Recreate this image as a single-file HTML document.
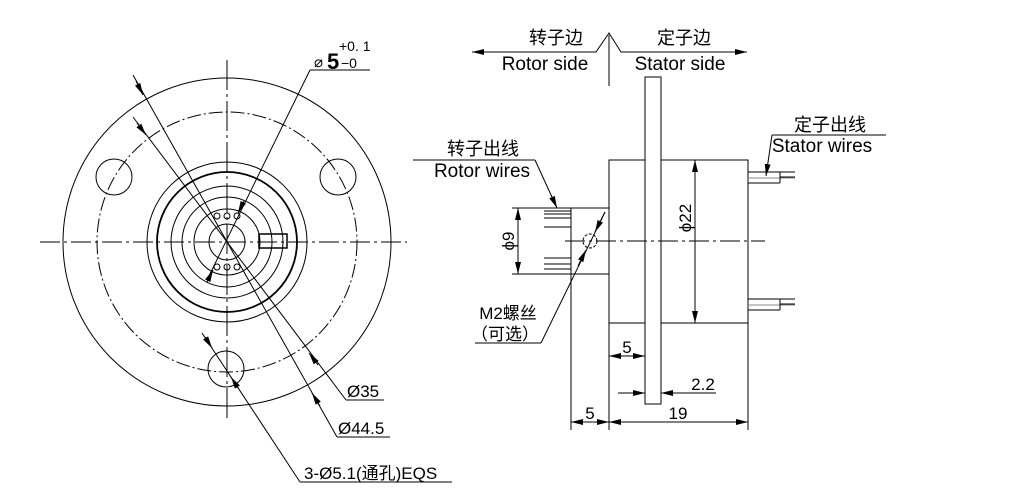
<!DOCTYPE html>
<html><head><meta charset="utf-8"><style>
html,body{margin:0;padding:0;background:#fff;}
svg{display:block;}
text{font-family:"Liberation Sans","Noto Sans CJK SC",sans-serif;fill:#000;}
</style></head><body>
<svg width="1012" height="497" viewBox="0 0 1012 497" xmlns="http://www.w3.org/2000/svg">
<defs>
<marker id="a" viewBox="0 0 12 6" refX="12" refY="3" markerWidth="12" markerHeight="6" orient="auto-start-reverse" markerUnits="userSpaceOnUse"><path d="M0,0 L12,3 L0,6 z" fill="#000"/></marker>
</defs>
<g fill="none" stroke="#000" stroke-width="1">
<circle cx="227" cy="242" r="164"/>
<circle cx="227" cy="242" r="130" stroke-dasharray="14,3,2,3"/>
<circle cx="114" cy="177" r="18"/>
<circle cx="338" cy="177" r="18"/>
<circle cx="226" cy="369" r="18"/>
<circle cx="227" cy="242" r="80"/>
<circle cx="227" cy="242" r="70" stroke-width="1.8"/>
<circle cx="227" cy="242" r="56"/>
<circle cx="227" cy="242" r="45"/>
<circle cx="227" cy="242" r="33"/>
<circle cx="227" cy="242" r="18"/>
<circle cx="217" cy="216" r="3"/><circle cx="227" cy="216" r="3"/><circle cx="237" cy="216" r="3"/>
<circle cx="217" cy="267" r="3"/><circle cx="227" cy="267" r="3"/><circle cx="237" cy="267" r="3"/>
<rect x="259" y="234" width="28" height="14" stroke-width="1.5"/>
<line x1="40" y1="242" x2="407" y2="242" stroke-dasharray="20,4,3,4"/>
<line x1="227" y1="60" x2="227" y2="422" stroke-dasharray="30,4,3,4"/>
<line x1="133" y1="117" x2="346" y2="400"/>
<line x1="137" y1="123" x2="146" y2="135" marker-end="url(#a)"/>
<line x1="318" y1="365" x2="309" y2="353" marker-end="url(#a)"/>
<line x1="346" y1="400" x2="384" y2="400"/>
<line x1="133" y1="75" x2="337" y2="437"/>
<line x1="136" y1="81" x2="143" y2="95" marker-end="url(#a)"/>
<line x1="320" y1="406" x2="312" y2="393" marker-end="url(#a)"/>
<line x1="337" y1="437" x2="390" y2="437"/>
<line x1="207" y1="280" x2="310" y2="70"/>
<line x1="310" y1="70" x2="370" y2="70"/>
<line x1="244" y1="201" x2="238" y2="213" marker-end="url(#a)"/>
<line x1="207" y1="282" x2="213" y2="270" marker-end="url(#a)"/>
<line x1="202" y1="333" x2="300" y2="482"/>
<line x1="300" y1="482" x2="452" y2="482"/>
<line x1="205" y1="337" x2="212" y2="348" marker-end="url(#a)"/>
<line x1="238" y1="388" x2="231" y2="377" marker-end="url(#a)"/>
<rect x="609" y="160" width="139" height="163"/>
<rect x="645" y="77" width="16" height="327" fill="#fff"/>
<rect x="571" y="208" width="38" height="66"/>
<line x1="544" y1="211" x2="571" y2="211"/><line x1="544" y1="214" x2="571" y2="214"/><line x1="544" y1="218" x2="571" y2="218"/><line x1="544" y1="227" x2="571" y2="227"/>
<line x1="544" y1="258" x2="571" y2="258"/><line x1="544" y1="264" x2="571" y2="264"/><line x1="544" y1="269" x2="571" y2="269"/>
<circle cx="590" cy="241" r="7" stroke-dasharray="3,1.5"/>
<line x1="565" y1="241" x2="765" y2="241" stroke-dasharray="20,4,3,4"/>
<line x1="748" y1="172" x2="795" y2="172"/><line x1="748" y1="178" x2="795" y2="178" stroke="#888"/><line x1="748" y1="183" x2="780" y2="183"/>
<line x1="780" y1="172" x2="780" y2="183"/><line x1="780" y1="177" x2="795" y2="177"/>
<line x1="748" y1="299" x2="795" y2="299"/><line x1="748" y1="305" x2="795" y2="305" stroke="#888"/><line x1="748" y1="310" x2="780" y2="310"/>
<line x1="780" y1="299" x2="780" y2="310"/><line x1="780" y1="304" x2="795" y2="304"/>
<line x1="605" y1="212" x2="541" y2="343"/>
<line x1="605" y1="212" x2="595" y2="232" marker-end="url(#a)"/>
<line x1="578" y1="266" x2="586" y2="250" marker-end="url(#a)"/>
<line x1="475" y1="343" x2="541" y2="343"/>
<line x1="512" y1="208" x2="571" y2="208"/><line x1="512" y1="274" x2="571" y2="274"/>
<line x1="518" y1="241" x2="518" y2="208" marker-end="url(#a)"/><line x1="518" y1="241" x2="518" y2="274" marker-end="url(#a)"/>
<line x1="695" y1="241" x2="695" y2="160" marker-end="url(#a)"/><line x1="695" y1="241" x2="695" y2="323" marker-end="url(#a)"/>
<line x1="571" y1="274" x2="571" y2="430"/><line x1="609" y1="323" x2="609" y2="430"/><line x1="748" y1="323" x2="748" y2="430"/>
<line x1="590" y1="422" x2="571" y2="422" marker-end="url(#a)"/><line x1="590" y1="422" x2="609" y2="422" marker-end="url(#a)"/>
<line x1="678" y1="422" x2="609" y2="422" marker-end="url(#a)"/><line x1="678" y1="422" x2="748" y2="422" marker-end="url(#a)"/>
<line x1="627" y1="356" x2="609" y2="356" marker-end="url(#a)"/><line x1="627" y1="356" x2="645" y2="356" marker-end="url(#a)"/>
<line x1="618" y1="393" x2="645" y2="393" marker-end="url(#a)"/><line x1="716" y1="393" x2="661" y2="393" marker-end="url(#a)"/>
<line x1="609" y1="35" x2="609" y2="86"/>
<polyline points="472,52 596,52 609,33 621,52 747,52"/>
<line x1="510" y1="52" x2="472" y2="52" marker-end="url(#a)"/><line x1="710" y1="52" x2="747" y2="52" marker-end="url(#a)"/>
<line x1="413" y1="160" x2="535" y2="160"/>
<line x1="535" y1="160" x2="557" y2="208" marker-end="url(#a)"/>
<line x1="772" y1="135" x2="886" y2="135"/>
<line x1="772" y1="135" x2="766" y2="176" marker-end="url(#a)"/>
</g>
<text x="314" y="67" font-size="15">⌀</text>
<text x="327" y="69" font-size="22" font-weight="bold">5</text>
<text x="339" y="51" font-size="14" font-family="Liberation Serif,serif">+0. 1</text>
<text x="341" y="68" font-size="14">−0</text>
<text x="347" y="397" font-size="17">Ø35</text>
<text x="338" y="434" font-size="17">Ø44.5</text>
<text x="304" y="479" font-size="17">3-Ø5.1(通孔)EQS</text>
<text x="556" y="44" font-size="18" text-anchor="middle">转子边</text>
<text x="545" y="70" font-size="19" text-anchor="middle">Rotor side</text>
<text x="684" y="44" font-size="18" text-anchor="middle">定子边</text>
<text x="680" y="70" font-size="19" text-anchor="middle">Stator side</text>
<text x="483" y="155" font-size="18" text-anchor="middle">转子出线</text>
<text x="482" y="177" font-size="19" text-anchor="middle">Rotor wires</text>
<text x="830" y="131" font-size="18" text-anchor="middle">定子出线</text>
<text x="822" y="152" font-size="19" text-anchor="middle">Stator wires</text>
<text x="508" y="319" font-size="17" text-anchor="middle">M2螺丝</text>
<text x="505" y="340" font-size="17" text-anchor="middle">（可选）</text>
<text x="627" y="353" font-size="17" text-anchor="middle">5</text>
<text x="703" y="390" font-size="17" text-anchor="middle">2.2</text>
<text x="590" y="419" font-size="17" text-anchor="middle">5</text>
<text x="678" y="419" font-size="17" text-anchor="middle">19</text>
<text transform="translate(514,241) rotate(-90)" font-size="17" text-anchor="middle">ϕ9</text>
<text transform="translate(691,218) rotate(-90)" font-size="17" text-anchor="middle">ϕ22</text>
</svg>
</body></html>
